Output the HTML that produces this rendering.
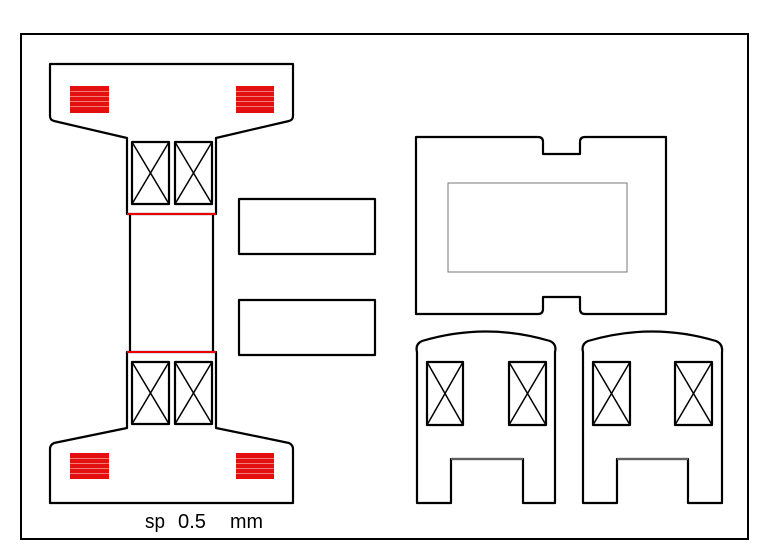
<!DOCTYPE html>
<html><head><style>html,body{margin:0;padding:0;background:#fff;}svg{display:block}</style></head>
<body>
<svg width="760" height="556" viewBox="0 0 760 556" xmlns="http://www.w3.org/2000/svg">
<rect x="0" y="0" width="760" height="556" fill="#fff"/>
<rect x="21" y="34" width="727" height="505" fill="none" stroke="#000" stroke-width="2"/>
<g fill="none" stroke="#000" stroke-width="2.2" stroke-linejoin="round">
<path d="M50,64 L293,64 L293,116 Q293,120 289,121 L216,138 L216,214 L127,214 L127,138 L54,121 Q50,120 50,116 Z"/>
<path d="M127,352 L216,352 L216,428 L289,443 Q293,445 293,449 L293,503 L50,503 L50,449 Q50,445 54,443 L127,428 Z"/>
<line x1="130" y1="214" x2="130" y2="352"/>
<line x1="213" y1="214" x2="213" y2="352"/>
<rect x="132" y="142" width="37" height="62"/><path d="M132,142 L169,204 M169,142 L132,204" stroke-width="1.5"/>
<rect x="175" y="142" width="37" height="62"/><path d="M175,142 L212,204 M212,142 L175,204" stroke-width="1.5"/>
<rect x="132" y="362" width="37" height="62"/><path d="M132,362 L169,424 M169,362 L132,424" stroke-width="1.5"/>
<rect x="175" y="362" width="37" height="62"/><path d="M175,362 L212,424 M212,362 L175,424" stroke-width="1.5"/>
<rect x="239" y="199" width="136" height="55"/>
<rect x="239" y="300" width="136" height="55"/>
<path d="M416,137 L538,137 Q543,137 543,142 L543,154 L580,154 L580,142 Q580,137 585,137 L666,137 L666,314 L585,314 Q580,314 580,309 L580,297 L543,297 L543,309 Q543,314 538,314 L416,314 Z"/>
<path d="M417,503 L417,352 Q415,344 422,341 Q486,322 550,341 Q557,344 555,352 L555,503 L523,503 L523,459 L451,459 L451,503 Z"/>
<path d="M583,503 L583,352 Q581,344 588,341 Q652,322 716,341 Q723,344 722,352 L722,503 L688,503 L688,459 L617,459 L617,503 Z"/>
<rect x="427" y="362" width="36" height="63"/><path d="M427,362 L463,425 M463,362 L427,425" stroke-width="1.5"/>
<rect x="509" y="362" width="37" height="63"/><path d="M509,362 L546,425 M546,362 L509,425" stroke-width="1.5"/>
<rect x="593" y="362" width="37" height="63"/><path d="M593,362 L630,425 M630,362 L593,425" stroke-width="1.5"/>
<rect x="675" y="362" width="37" height="63"/><path d="M675,362 L712,425 M712,362 L675,425" stroke-width="1.5"/>
</g>
<rect x="448" y="183" width="179" height="89" fill="none" stroke="#777" stroke-width="1"/>
<path d="M451,459 L523,459 M617,459 L688,459" stroke="#fff" stroke-width="0.8"/>
<line x1="127" y1="214" x2="216" y2="214" stroke="#e00" stroke-width="2"/>
<line x1="127" y1="352" x2="216" y2="352" stroke="#e00" stroke-width="2"/>
<g fill="#e41010">
<rect x="70" y="86" width="39" height="27"/><rect x="236" y="86" width="38" height="27"/>
<rect x="70" y="453" width="39" height="26"/><rect x="236" y="453" width="38" height="26"/>
</g>
<g stroke="#f5a0a0" stroke-width="0.8">
<path d="M70,91.5H109M70,96.5H109M70,101.5H109M70,106.5H109M236,91.5H274M236,96.5H274M236,101.5H274M236,106.5H274"/>
<path d="M70,458.5H109M70,463.5H109M70,468.5H109M70,473.5H109M236,458.5H274M236,463.5H274M236,468.5H274M236,473.5H274"/>
</g>
<g font-family="'Liberation Sans',sans-serif" font-size="20" fill="#000">
<text x="145" y="528" textLength="20" lengthAdjust="spacingAndGlyphs">sp</text>
<text x="178" y="528" textLength="28" lengthAdjust="spacingAndGlyphs">0.5</text>
<text x="230" y="528" textLength="33" lengthAdjust="spacingAndGlyphs">mm</text>
</g>
</svg>
</body></html>
